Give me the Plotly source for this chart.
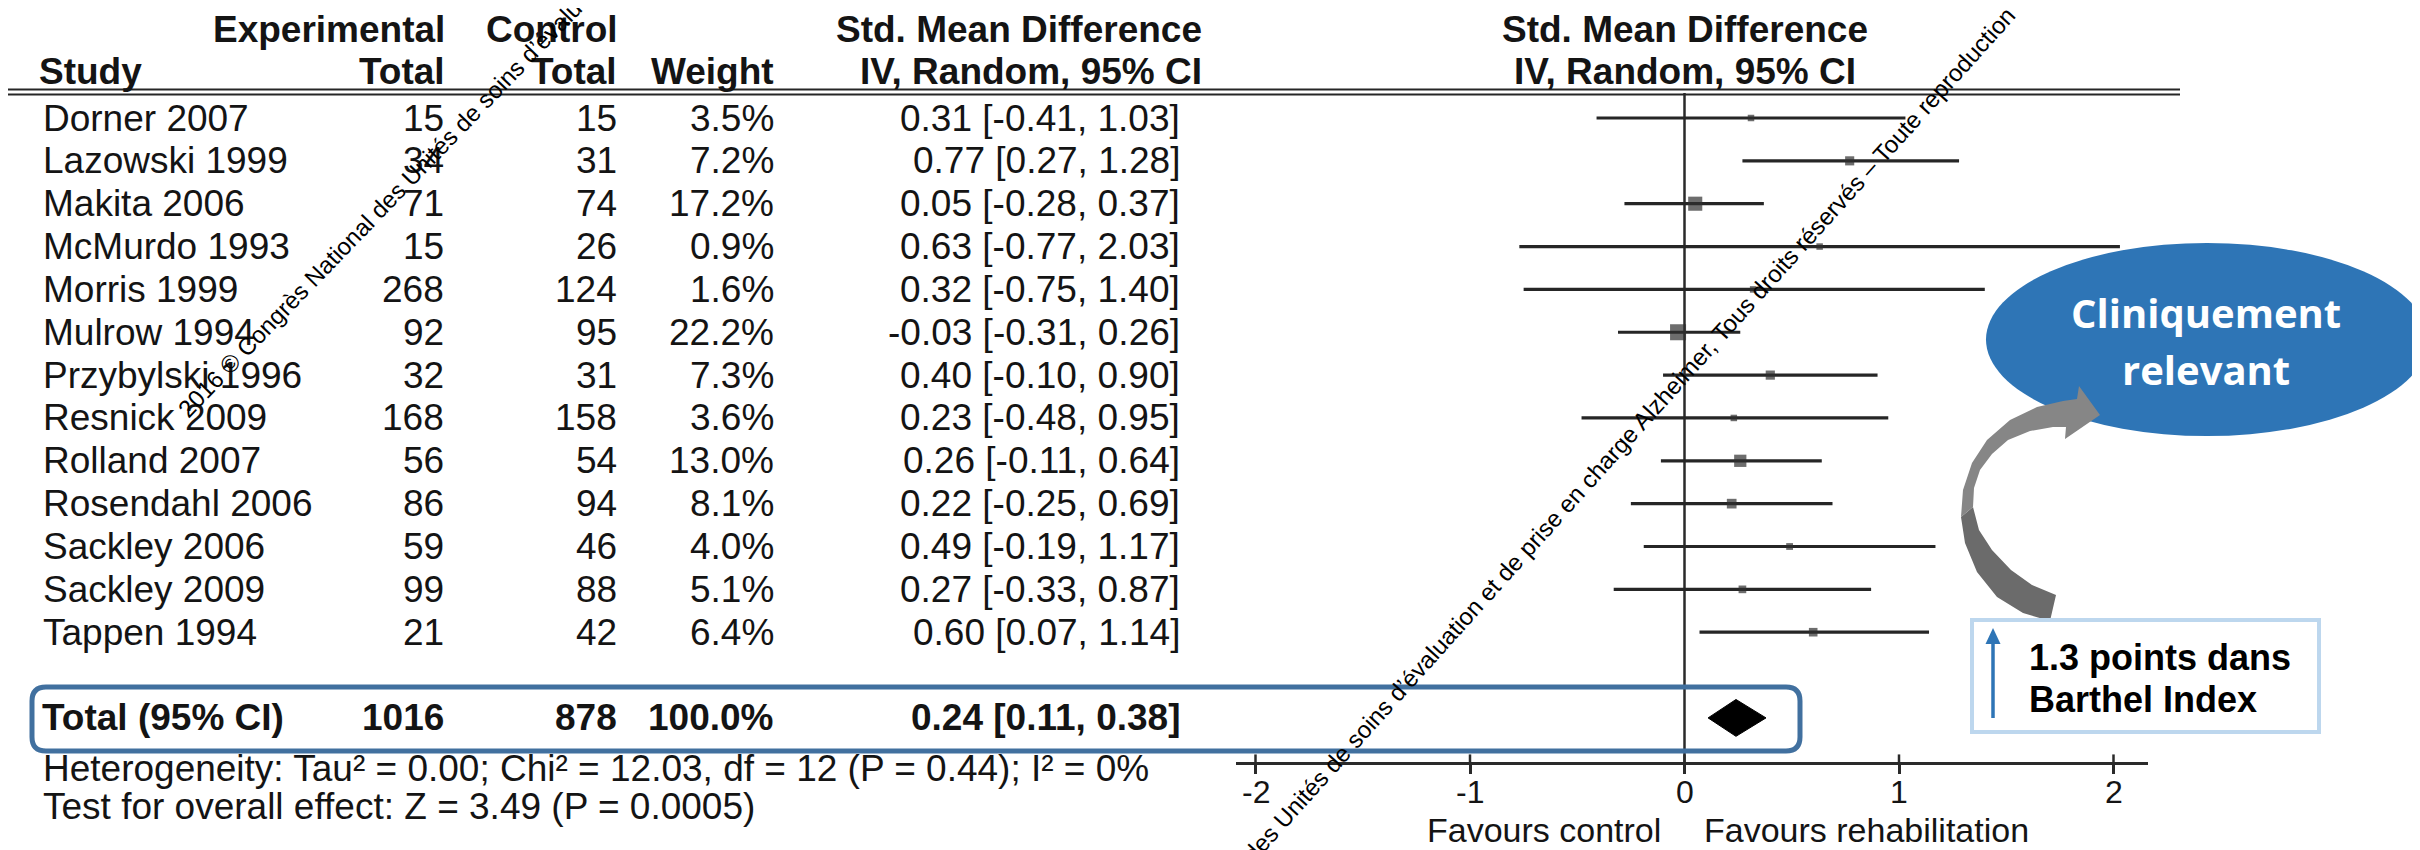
import plotly.graph_objects as go

# ---------------- data ----------------
studies = ["Dorner 2007", "Lazowski 1999", "Makita 2006", "McMurdo 1993", "Morris 1999",
           "Mulrow 1994", "Przybylski 1996", "Resnick 2009", "Rolland 2007", "Rosendahl 2006",
           "Sackley 2006", "Sackley 2009", "Tappen 1994"]
exp_total = [15, 34, 71, 15, 268, 92, 32, 168, 56, 86, 59, 99, 21]
ctrl_total = [15, 31, 74, 26, 124, 95, 31, 158, 54, 94, 46, 88, 42]
weight = [3.5, 7.2, 17.2, 0.9, 1.6, 22.2, 7.3, 3.6, 13.0, 8.1, 4.0, 5.1, 6.4]
smd = [0.31, 0.77, 0.05, 0.63, 0.32, -0.03, 0.40, 0.23, 0.26, 0.22, 0.49, 0.27, 0.60]
ci_low = [-0.41, 0.27, -0.28, -0.77, -0.75, -0.31, -0.10, -0.48, -0.11, -0.25, -0.19, -0.33, 0.07]
ci_high = [1.03, 1.28, 0.37, 2.03, 1.40, 0.26, 0.90, 0.95, 0.64, 0.69, 1.17, 0.87, 1.14]

total_label = "Total (95% CI)"
total_exp = 1016
total_ctrl = 878
total_weight = 100.0
total_smd = 0.24
total_low = 0.11
total_high = 0.38

axis_ticks = [-2, -1, 0, 1, 2]
heterogeneity = "Heterogeneity: Tau² = 0.00; Chi² = 12.03, df = 12 (P = 0.44); I² = 0%"
overall = "Test for overall effect: Z = 3.49 (P = 0.0005)"
favours_left = "Favours control"
favours_right = "Favours rehabilitation"
bubble_text = ["Cliniquement", "relevant"]
box_text = ["1.3 points dans", "Barthel Index"]
watermark = ("2016 © Congrès National des Unités de soins d’évaluation et de prise en charge "
             "Alzheimer, Tous droits réservés – Toute reproduction")

# ---------------- geometry helpers (page pixels; page body has an 8px margin) ----------------
PAGE_W, PAGE_H = 2420, 850
OFF = 8
W, H = PAGE_W - OFF, PAGE_H - OFF
ROW0, ROWH = 118.0, 42.85


def X(px):
    return (px - OFF) / W


def Y(py):
    return 1 - (py - OFF) / H


def R(py):
    return (py - ROW0) / ROWH


FONT = "Liberation Sans, Arial, sans-serif"
TXT = "#141414"
FS = 37

rows = list(range(len(studies)))
total_row = len(studies) + 1
axis_row = R(763)

fig = go.Figure()

# zero line
fig.add_trace(go.Scatter(x=[0, 0], y=[R(93), axis_row], mode="lines",
                         line=dict(color="#2a2a2a", width=2.5), hoverinfo="skip"))
# upward tick marks
tx, ty = [], []
for t in axis_ticks:
    tx += [t, t, None]
    ty += [axis_row, axis_row - 0.2, None]
fig.add_trace(go.Scatter(x=tx, y=ty, mode="lines",
                         line=dict(color="#2a2a2a", width=2.5), hoverinfo="skip"))
# CI lines
lx, ly = [], []
for r, lo, hi in zip(rows, ci_low, ci_high):
    lx += [lo, hi, None]
    ly += [r, r, None]
fig.add_trace(go.Scatter(x=lx, y=ly, mode="lines",
                         line=dict(color="#262626", width=3.2), hoverinfo="skip"))
# squares
sizes = [max(6.5, 3.4 * w ** 0.5) for w in weight]
fig.add_trace(go.Scatter(x=smd, y=rows, mode="markers",
                         marker=dict(symbol="square", size=sizes, color="#2f2f2f",
                                     line=dict(width=0)), hoverinfo="skip"))
# diamond
dh = 0.43
fig.add_trace(go.Scatter(x=[total_low, total_smd, total_high, total_smd, total_low],
                         y=[total_row, total_row - dh, total_row, total_row + dh, total_row],
                         mode="lines", fill="toself", fillcolor="#000000",
                         line=dict(color="#000000", width=1), hoverinfo="skip"))

ann = []


def txt(x, y, s, anchor, bold=False, size=FS, xref="paper", color=TXT, family=FONT):
    ann.append(dict(x=x, y=y, xref=xref, yref="y", text=(f"<b>{s}</b>" if bold else s),
                    showarrow=False, xanchor=anchor, yanchor="middle",
                    font=dict(family=family, size=size, color=color)))


# headers
h1, h2 = R(29), R(71)
txt(X(447), h1, "Experimental", "right", True)
txt(X(620), h1, "Control", "right", True)
txt(X(1204), h1, "Std. Mean Difference", "right", True)
txt(0, h1, "Std. Mean Difference", "center", True, xref="x")
txt(X(37), h2, "Study", "left", True)
txt(X(447), h2, "Total", "right", True)
txt(X(619), h2, "Total", "right", True)
txt(X(776), h2, "Weight", "right", True)
txt(X(1204), h2, "IV, Random, 95% CI", "right", True)
txt(0, h2, "IV, Random, 95% CI", "center", True, xref="x")

# study rows
for r, s, e, c, w, m, lo, hi in zip(rows, studies, exp_total, ctrl_total, weight, smd, ci_low, ci_high):
    txt(X(41), r, s, "left")
    txt(X(446), r, str(e), "right")
    txt(X(619), r, str(c), "right")
    txt(X(776), r, f"{w:.1f}%", "right")
    txt(X(1182), r, f"{m:.2f} [{lo:.2f}, {hi:.2f}]", "right")

# total row
txt(X(40), total_row, total_label, "left", True)
txt(X(446), total_row, str(total_exp), "right", True)
txt(X(619), total_row, str(total_ctrl), "right", True)
txt(X(776), total_row, f"{total_weight:.1f}%", "right", True)
txt(X(1182), total_row, f"{total_smd:.2f} [{total_low:.2f}, {total_high:.2f}]", "right", True)

# footer
txt(X(41), R(768), heterogeneity, "left")
txt(X(41), R(806), overall, "left")

# axis tick labels (drawn at tick values)
for t in axis_ticks:
    txt(t, R(792), str(t), "center", size=32, xref="x")
txt(X(1663), R(830), favours_left, "right", size=34)
txt(X(1702), R(830), favours_right, "left", size=34)

# bubble / box text
txt(X(2206), R(312), bubble_text[0], "center", True, size=40, color="white", family="Open Sans")
txt(X(2206), R(369), bubble_text[1], "center", True, size=40, color="white", family="Open Sans")
txt(X(2027), R(657), box_text[0], "left", True, size=36, color="#000000")
txt(X(2027), R(699), box_text[1], "left", True, size=36, color="#000000")

# watermark diagonal text
for ax_, ay_, ang in [(170, 425, -46), (1050, 1076, -48)]:
    ann.append(dict(x=X(ax_), y=Y(ay_), xref="paper", yref="paper", text=watermark,
                    showarrow=False, xanchor="left", yanchor="bottom", textangle=ang,
                    font=dict(family=FONT, size=24, color="#000000")))

# ---------------- shapes ----------------
shapes = []


def poly(points):
    return "M " + " L ".join(f"{X(px):.5f},{Y(py):.5f}" for px, py in points) + " Z"


def rounded(x0, y0, x1, y1, r):
    p = lambda a, b: f"{X(a):.5f},{Y(b):.5f}"
    return (f"M {p(x0 + r, y0)} L {p(x1 - r, y0)} Q {p(x1, y0)} {p(x1, y0 + r)} "
            f"L {p(x1, y1 - r)} Q {p(x1, y1)} {p(x1 - r, y1)} L {p(x0 + r, y1)} "
            f"Q {p(x0, y1)} {p(x0, y1 - r)} L {p(x0, y0 + r)} Q {p(x0, y0)} {p(x0 + r, y0)} Z")


# header double rule
for py in (89.5, 94.5):
    shapes.append(dict(type="line", xref="paper", yref="y", x0=X(8), x1=X(2180),
                       y0=R(py), y1=R(py), line=dict(color="#262626", width=2.2)))
# total highlight box
shapes.append(dict(type="path", xref="paper", yref="paper", path=rounded(32, 687, 1800, 751, 14),
                   line=dict(color="#41709f", width=5)))
# ellipse
shapes.append(dict(type="circle", xref="paper", yref="paper", x0=X(1986), x1=X(2428),
                   y0=Y(436), y1=Y(243), fillcolor="#2E75B6", line=dict(width=0)))
# gray curved arrow
lower = [(2050, 621), (2023, 613), (1997, 597), (1977, 572), (1965, 543), (1961, 517),
         (1973, 507), (1979, 530), (1992, 550), (2011, 570), (2032, 585), (2056, 595)]
upper = [(1961, 517), (1963, 490), (1972, 463), (1987, 440), (2010, 420), (2037, 407),
         (2063, 401), (2077, 399), (2079, 386), (2100, 415), (2065, 439), (2066, 427),
         (2053, 427), (2030, 431), (2008, 440), (1992, 454), (1980, 470), (1974, 488), (1973, 507)]
shapes.append(dict(type="path", xref="paper", yref="paper", path=poly(lower),
                   fillcolor="#6b6b6b", line=dict(width=0)))
shapes.append(dict(type="path", xref="paper", yref="paper", path=poly(upper),
                   fillcolor="#868686", line=dict(width=0)))
# barthel box
shapes.append(dict(type="rect", xref="paper", yref="paper", x0=X(1972), x1=X(2319),
                   y0=Y(732), y1=Y(620), fillcolor="white", line=dict(color="#BDD7EE", width=4)))
shapes.append(dict(type="line", xref="paper", yref="paper", x0=X(1993), x1=X(1993),
                   y0=Y(718), y1=Y(640), line=dict(color="#2E75B6", width=3.5)))
shapes.append(dict(type="path", xref="paper", yref="paper",
                   path=poly([(1985.5, 644), (2000.5, 644), (1993, 628)]),
                   fillcolor="#2E75B6", line=dict(width=0)))

x_lo = (1236 - 1684.5) / 214.5
x_hi = (2148 - 1684.5) / 214.5

fig.update_layout(
    width=W, height=H, margin=dict(l=0, r=0, t=0, b=0),
    paper_bgcolor="white", plot_bgcolor="rgba(0,0,0,0)", showlegend=False,
    xaxis=dict(domain=[X(1236), X(2148)], range=[x_lo, x_hi], anchor="free",
               position=Y(763), showline=True, linecolor="#2a2a2a", linewidth=2.5,
               ticks="outside", ticklen=9, tickwidth=2.5, tickcolor="#2a2a2a",
               tickvals=axis_ticks, showticklabels=False,
               showgrid=False, zeroline=False, fixedrange=True),
    yaxis=dict(domain=[0, 1], range=[R(PAGE_H), R(OFF)], visible=False, showgrid=False,
               zeroline=False, fixedrange=True),
    annotations=ann, shapes=shapes,
)

fig.write_html("out.html")
